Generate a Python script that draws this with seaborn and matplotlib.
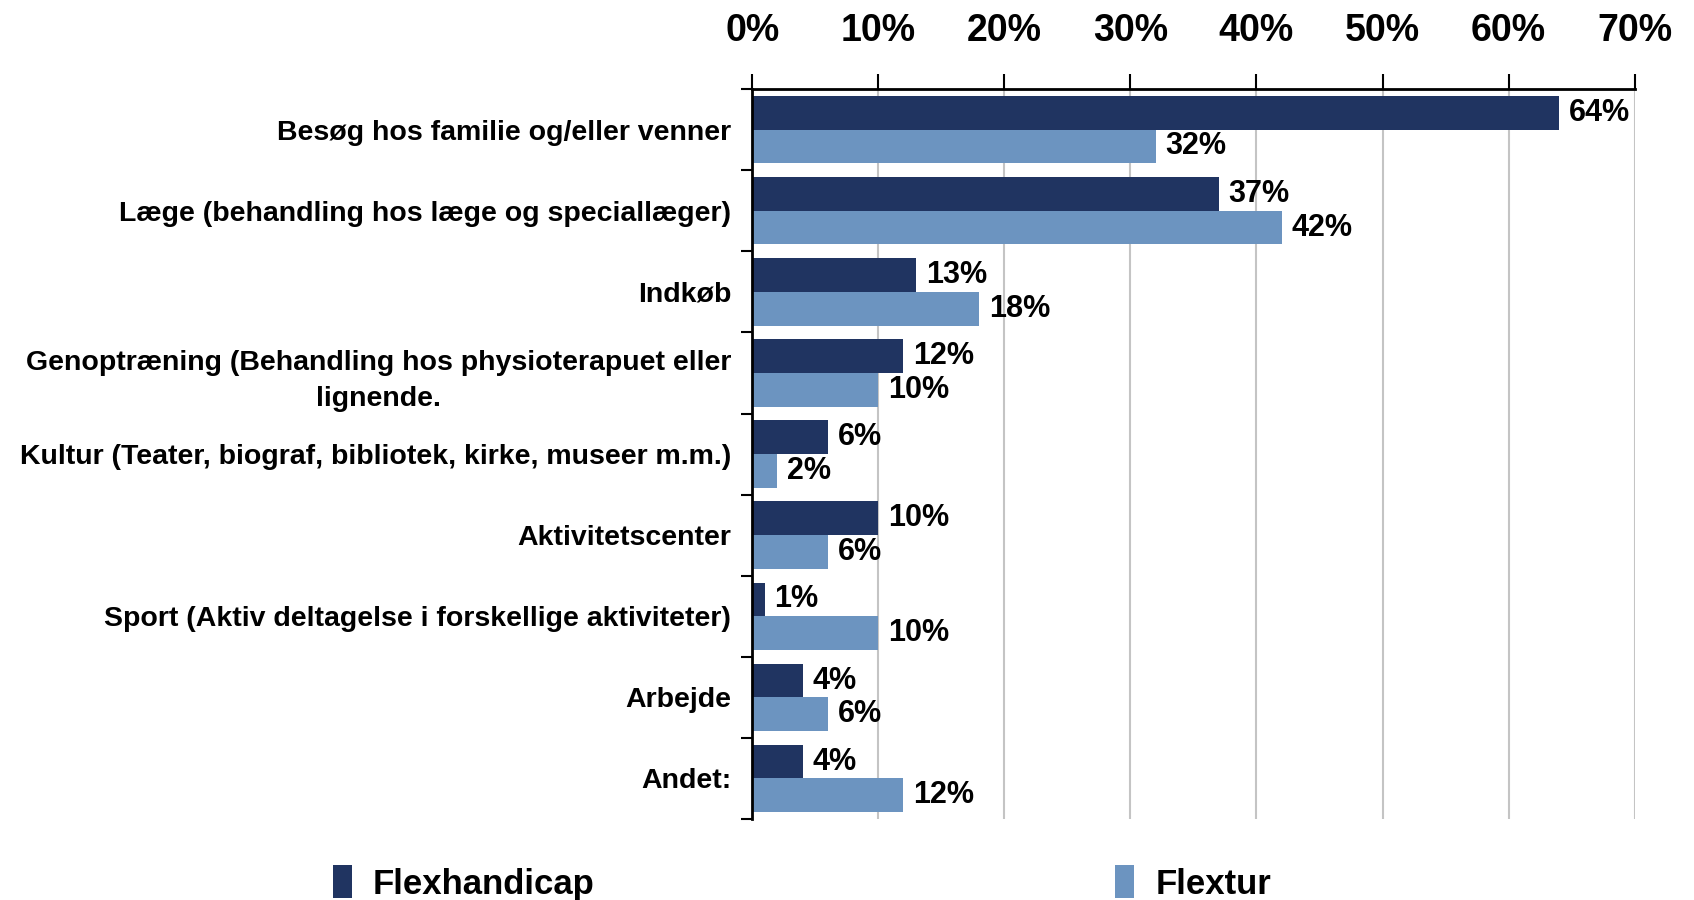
'''
Formål med ture: Flexhandicap vs. Flextur, vandret søjlediagram.
'''
import numpy as np
import pandas as pd
import seaborn as sns
import matplotlib
matplotlib.use('Agg')
import matplotlib.pyplot as plt
from matplotlib.ticker import FixedLocator, PercentFormatter

# Data
categories = [
    'Besøg hos familie og/eller venner',
    'Læge (behandling hos læge og speciallæger)',
    'Indkøb',
    'Genoptræning (Behandling hos physioterapuet eller\nlignende.',
    'Kultur (Teater, biograf, bibliotek, kirke, museer m.m.)',
    'Aktivitetscenter',
    'Sport (Aktiv deltagelse i forskellige aktiviteter)',
    'Arbejde',
    'Andet:',
]
flexhandicap = [64, 37, 13, 12, 6, 10, 1, 4, 4]
flextur = [32, 42, 18, 10, 2, 6, 10, 6, 12]
series = ['Flexhandicap', 'Flextur']
x_ticks = [0, 10, 20, 30, 40, 50, 60, 70]

df = pd.DataFrame({
    'kategori': categories * 2,
    'andel': flexhandicap + flextur,
    'serie': [series[0]] * len(categories) + [series[1]] * len(categories),
})

# Styling
sns.set_style('white')
plt.rcParams['font.family'] = ['Liberation Sans', 'DejaVu Sans']
plt.rcParams['font.weight'] = 'bold'
plt.rcParams['text.color'] = 'black'

DARK = '#203461'
LIGHT = '#6C94C0'

fig = plt.figure(figsize=(16.94, 9.0), dpi=100)
ax = fig.add_axes([0.444, 0.09, 0.521, 0.811])

sns.barplot(data=df, y='kategori', x='andel', hue='serie', orient='h',
            palette=[DARK, LIGHT], width=0.83, saturation=1, ax=ax,
            linewidth=0, legend=True)

# Data labels
for cont in ax.containers:
    ax.bar_label(cont, fmt='%d%%', padding=7, fontsize=22, fontweight='bold',
                 color='black')

# X axis on top
ax.set_xlim(0, 70)
ax.xaxis.set_major_locator(FixedLocator(x_ticks))
ax.xaxis.set_major_formatter(PercentFormatter(decimals=0))
ax.xaxis.tick_top()
ax.tick_params(axis='x', which='major', direction='out', length=11, width=1.5,
               pad=18, labelsize=27, color='black', labelcolor='black')
ax.grid(axis='x', color='#C4C4C4', linewidth=1.5)
ax.set_axisbelow(True)

# Y axis: ticks between groups
n = len(categories)
ax.set_ylim(n - 0.5, -0.5)
ax.yaxis.set_minor_locator(FixedLocator(np.arange(-0.5, n, 1.0)))
ax.tick_params(axis='y', which='major', length=0, pad=15, labelsize=20.5,
               labelcolor='black')
ax.tick_params(axis='y', which='minor', direction='out', length=8, width=1.5,
               color='black', left=True)
for lbl in ax.get_yticklabels():
    lbl.set_multialignment('center')
    lbl.set_linespacing(1.5)
    lbl.set_fontweight('bold')
for lbl in ax.get_xticklabels():
    lbl.set_fontweight('bold')

ax.set_xlabel('')
ax.set_ylabel('')
for side in ['bottom', 'right']:
    ax.spines[side].set_visible(False)
for side in ['top', 'left']:
    ax.spines[side].set_color('black')
    ax.spines[side].set_linewidth(2)

# Legend at bottom
handles, labels = ax.get_legend_handles_labels()
ax.get_legend().remove()
fig.legend(handles, labels, loc='center left', bbox_to_anchor=(0.178, 0.019),
           ncol=2, frameon=False, handlelength=0.55, handleheight=1.1,
           handletextpad=0.6, columnspacing=15, labelcolor='black',
           prop={'weight': 'bold', 'size': 25})

fig.savefig('out.png', dpi=100)
